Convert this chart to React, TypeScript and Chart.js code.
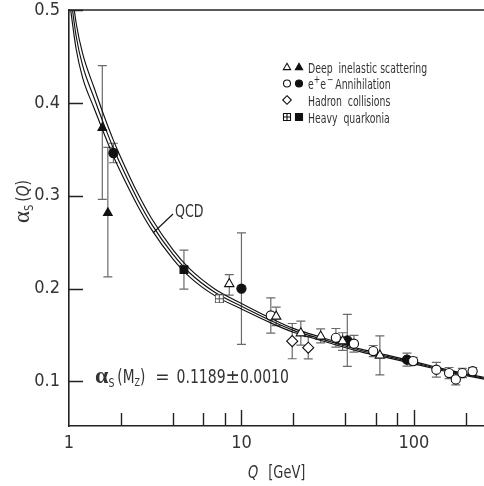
import React, { useEffect, useRef } from 'react';
import { Chart, registerables } from 'chart.js';

Chart.register(...registerables);

const FAM = "'Liberation Sans Narrow', 'DejaVu Sans Condensed', 'Liberation Sans', sans-serif";
const SERIF = "'Liberation Serif', 'DejaVu Serif', serif";
const TEXT = '#333';
const INK = '#111';
const BAR = '#6b6b6b';

// axes
const xTickLabels = [1, 10, 100];
const xInnerTicks = [2, 4, 6, 8, 10, 20, 40, 60, 80, 100, 200];
const yTickLabels = [0.1, 0.2, 0.3, 0.4, 0.5];

// QCD prediction (band of three curves)
const qcdQ = [1.0, 1.1, 1.2, 1.4, 1.6, 1.8, 2.0, 2.5, 3.0, 4.0, 5.0, 7.0, 10, 15, 20, 30, 50, 70, 91.2, 130, 180, 255];
const qcdCentral = [0.53, 0.472, 0.44, 0.405, 0.376, 0.352, 0.333, 0.296, 0.27, 0.237, 0.217, 0.196, 0.181, 0.165, 0.155, 0.145, 0.133, 0.127, 0.122, 0.115, 0.109, 0.1035];
const qcdUpper = [0.546, 0.486, 0.453, 0.416, 0.3855, 0.3607, 0.341, 0.3028, 0.276, 0.242, 0.2214, 0.1996, 0.184, 0.1675, 0.1571, 0.1468, 0.1345, 0.1283, 0.1232, 0.1161, 0.11, 0.1045];
const qcdLower = [0.514, 0.458, 0.427, 0.394, 0.3665, 0.3433, 0.325, 0.2892, 0.264, 0.232, 0.2126, 0.1924, 0.178, 0.1625, 0.1529, 0.1432, 0.1315, 0.1257, 0.1208, 0.1139, 0.108, 0.1025];

// Deep inelastic scattering
const disOpenQ = [8.5, 15.9, 22.1, 28.8, 38.6, 63.5];
const disOpenA = [0.205, 0.17, 0.152, 0.1485, 0.1434, 0.128];
const disOpenLo = [0.012, 0.01, 0.013, 0.007, 0.01, 0.021];
const disOpenHi = [0.01, 0.01, 0.013, 0.008, 0.009, 0.021];
const disFilledQ = [1.56, 1.68];
const disFilledA = [0.373, 0.2815];
const disFilledLo = [0.077, 0.069];
const disFilledHi = [0.067, 0.0705];

// e+e- annihilation
const eeOpenQ = [14.8, 35.3, 44.9, 58.1, 99, 135, 160, 175, 191, 219];
const eeOpenA = [0.171, 0.147, 0.1406, 0.1327, 0.1219, 0.1126, 0.109, 0.1022, 0.109, 0.111];
const eeOpenErr = [0.019, 0.01, 0.009, 0.006, 0.004, 0.008, 0.006, 0.006, 0.005, 0.004];
const eeFilledQ = [1.81, 10, 41.1, 91.2];
const eeFilledA = [0.346, 0.2, 0.1442, 0.1234];
const eeFilledErr = [0.0105, 0.06, 0.028, 0.007];

// Hadron collisions
const hadronQ = [19.7, 24.4];
const hadronA = [0.1434, 0.1363];
const hadronErr = [0.019, 0.012];

// Heavy quarkonia
const quarkOpenQ = [7.44];
const quarkOpenA = [0.189];
const quarkOpenErr = [0.003];
const quarkFilledQ = [4.64];
const quarkFilledA = [0.2204];
const quarkFilledErr = [0.021];

const legendRows = ['Deep inelastic scattering', 'e+e- Annihilation', 'Hadron collisions', 'Heavy quarkonia'];

const pts = (q: number[], a: number[]) => q.map((x, i) => ({ x, y: a[i] }));

function makeCrossSquare(size: number, color: string) {
  const c = document.createElement('canvas');
  c.width = size;
  c.height = size;
  const g = c.getContext('2d')!;
  g.fillStyle = '#fff';
  g.fillRect(0.5, 0.5, size - 1, size - 1);
  g.strokeStyle = color;
  g.lineWidth = 1;
  g.strokeRect(0.5, 0.5, size - 1, size - 1);
  const m = Math.floor(size / 2) + 0.5;
  g.beginPath();
  g.moveTo(m, 0.5);
  g.lineTo(m, size - 0.5);
  g.moveTo(0.5, m);
  g.lineTo(size - 0.5, m);
  g.stroke();
  return c;
}

function marker(ctx: CanvasRenderingContext2D, kind: string, x: number, y: number, r: number, filled: boolean) {
  ctx.save();
  ctx.lineWidth = 1.1;
  ctx.strokeStyle = INK;
  ctx.fillStyle = filled ? INK : '#fff';
  ctx.beginPath();
  if (kind === 'tri') {
    ctx.moveTo(x, y - r);
    ctx.lineTo(x + r * 0.866, y + r * 0.5);
    ctx.lineTo(x - r * 0.866, y + r * 0.5);
    ctx.closePath();
  } else if (kind === 'circ') {
    ctx.arc(x, y, r, 0, Math.PI * 2);
  } else if (kind === 'dia') {
    ctx.moveTo(x, y - r);
    ctx.lineTo(x + r, y);
    ctx.lineTo(x, y + r);
    ctx.lineTo(x - r, y);
    ctx.closePath();
  } else {
    ctx.rect(x - r, y - r, 2 * r, 2 * r);
  }
  ctx.fill();
  ctx.stroke();
  if (kind === 'sqx') {
    ctx.beginPath();
    ctx.moveTo(x, y - r);
    ctx.lineTo(x, y + r);
    ctx.moveTo(x - r, y);
    ctx.lineTo(x + r, y);
    ctx.stroke();
  }
  ctx.restore();
}

function sText(ctx: CanvasRenderingContext2D, s: string, x: number, y: number, font: string, sx = 1) {
  ctx.save();
  ctx.font = font;
  ctx.translate(x, y);
  ctx.scale(sx, 1);
  ctx.fillText(s, 0, 0);
  const w = ctx.measureText(s).width * sx;
  ctx.restore();
  return w;
}

const customPlugin = {
  id: 'alphasDecor',
  beforeDatasetsDraw(chart: any) {
    const { ctx, chartArea: ca } = chart;
    const xs = chart.scales.x;
    const ys = chart.scales.y;
    ctx.save();
    ctx.beginPath();
    ctx.rect(ca.left, ca.top, ca.right - ca.left, ca.bottom - ca.top);
    ctx.clip();
    ctx.strokeStyle = BAR;
    ctx.lineWidth = 1.2;
    chart.data.datasets.forEach((ds: any) => {
      if (!ds.errLo) return;
      ds.data.forEach((p: any, i: number) => {
        const x = xs.getPixelForValue(p.x);
        const y1 = ys.getPixelForValue(p.y + ds.errHi[i]);
        const y2 = ys.getPixelForValue(p.y - ds.errLo[i]);
        ctx.beginPath();
        ctx.moveTo(x, y1);
        ctx.lineTo(x, y2);
        ctx.moveTo(x - 4.5, y1);
        ctx.lineTo(x + 4.5, y1);
        ctx.moveTo(x - 4.5, y2);
        ctx.lineTo(x + 4.5, y2);
        ctx.stroke();
      });
    });
    ctx.restore();
  },
  afterDraw(chart: any) {
    const { ctx, chartArea: ca } = chart;
    const xs = chart.scales.x;
    const ys = chart.scales.y;
    ctx.save();
    // top frame line
    ctx.strokeStyle = '#222';
    ctx.lineWidth = 1.6;
    ctx.beginPath();
    ctx.moveTo(ca.left, ca.top);
    ctx.lineTo(ca.right, ca.top);
    ctx.stroke();
    // inward ticks
    ctx.lineWidth = 1.4;
    ctx.beginPath();
    xInnerTicks.forEach((v) => {
      const x = Math.round(xs.getPixelForValue(v)) + 0.5;
      const len = v === 10 || v === 100 ? 16 : 13;
      ctx.moveTo(x, ca.bottom);
      ctx.lineTo(x, ca.bottom - len);
    });
    yTickLabels.forEach((v) => {
      const y = Math.round(ys.getPixelForValue(v)) + 0.5;
      ctx.moveTo(ca.left, y);
      ctx.lineTo(ca.left + 14, y);
    });
    ctx.stroke();

    ctx.fillStyle = TEXT;
    ctx.textBaseline = 'alphabetic';
    ctx.textAlign = 'left';

    // QCD label with leader line
    ctx.strokeStyle = INK;
    ctx.lineWidth = 1.1;
    ctx.beginPath();
    ctx.moveTo(173, 214);
    ctx.lineTo(153, 233);
    ctx.stroke();
    sText(ctx, 'QCD', 175, 217, `18px ${FAM}`, 0.78);

    // alpha_s(M_Z) annotation
    let x = 95;
    const by = 383;
    x += sText(ctx, 'α', x, by, `bold 24px ${SERIF}`);
    x += sText(ctx, 'S', x, by + 4, `13px ${FAM}`, 0.8) + 3;
    x += sText(ctx, '(M', x, by, `19px ${FAM}`, 0.8);
    x += sText(ctx, 'Z', x, by + 3, `11px ${FAM}`, 0.8);
    x += sText(ctx, ')', x, by, `19px ${FAM}`, 0.8);
    x += 10;
    x += sText(ctx, '=', x, by, `19px ${FAM}`, 1);
    x += 7;
    x += sText(ctx, '0.1189', x, by, `19px ${FAM}`, 0.82);
    x += sText(ctx, '±', x, by, `19px ${FAM}`, 1);
    sText(ctx, '0.0010', x, by, `19px ${FAM}`, 0.82);

    // x title
    let tx = 248;
    tx += sText(ctx, 'Q', tx, 478, `italic 17px ${FAM}`, 0.85) + 10;
    sText(ctx, '[GeV]', tx, 478, `17px ${FAM}`, 0.85);

    // y title (rotated)
    ctx.save();
    ctx.translate(29, 223);
    ctx.rotate(-Math.PI / 2);
    let ty = 0;
    ty += sText(ctx, 'α', ty, 0, `23px ${SERIF}`);
    ty += sText(ctx, 'S', ty, 4, `13px ${FAM}`, 0.85) + 3;
    ty += sText(ctx, '(', ty, 0, `18px ${FAM}`, 0.85);
    ty += sText(ctx, 'Q', ty, 0, `italic 18px ${FAM}`, 0.85);
    sText(ctx, ')', ty, 0, `18px ${FAM}`, 0.85);
    ctx.restore();

    // legend
    const rowsY = [67, 83.5, 100, 117];
    const kinds = ['tri', 'circ', 'dia', 'sq'];
    const LF = `14px ${FAM}`;
    const LS = 0.74;
    rowsY.forEach((ry, i) => {
      const k = kinds[i];
      if (k === 'tri') {
        marker(ctx, 'tri', 287, ry + 0.5, 4.2, false);
        marker(ctx, 'tri', 299, ry + 0.5, 4.2, true);
      } else if (k === 'circ') {
        marker(ctx, 'circ', 287, ry, 3.5, false);
        marker(ctx, 'circ', 299, ry, 3.5, true);
      } else if (k === 'dia') {
        marker(ctx, 'dia', 287, ry, 4.3, false);
      } else {
        marker(ctx, 'sqx', 287, ry, 3.5, false);
        marker(ctx, 'sq', 299, ry, 3.5, true);
      }
      ctx.fillStyle = TEXT;
      const ly = ry + 5.5;
      if (i === 1) {
        let lx = 308;
        lx += sText(ctx, 'e', lx, ly, LF, LS);
        lx += sText(ctx, '+', lx, ly - 6, `10px ${FAM}`, 0.85);
        lx += sText(ctx, 'e', lx, ly, LF, LS) + 1;
        lx += sText(ctx, '\u2212', lx, ly - 6, `10px ${FAM}`, 0.85) + 2;
        sText(ctx, 'Annihilation', lx, ly, LF, LS);
      } else {
        sText(ctx, legendRows[i].replace(' ', '  '), 308, ly, LF, LS);
      }
    });
    ctx.restore();
  },
};

export default function App() {
  const ref = useRef<HTMLCanvasElement | null>(null);
  useEffect(() => {
    document.body.style.margin = '0';
    const canvas = ref.current!;
    const curve = (vals: number[]) => ({
      type: 'line',
      data: pts(qcdQ, vals),
      borderColor: INK,
      borderWidth: 1.15,
      pointRadius: 0,
      cubicInterpolationMode: 'monotone',
      fill: false,
      order: 10,
    });
    const markers = (
      q: number[], a: number[], lo: number[], hi: number[],
      style: any, radius: number, filled: boolean, label: string,
    ) => ({
      type: 'scatter',
      label,
      data: pts(q, a),
      errLo: lo,
      errHi: hi,
      pointStyle: style,
      pointRadius: radius,
      pointBackgroundColor: filled ? INK : '#fff',
      pointBorderColor: INK,
      pointBorderWidth: 1.1,
      order: 0,
    });
    const quarkOpenStyle = makeCrossSquare(9, '#555');
    const chart = new Chart(canvas, {
      type: 'scatter',
      data: {
        datasets: [
          curve(qcdUpper),
          curve(qcdCentral),
          curve(qcdLower),
          markers(hadronQ, hadronA, hadronErr, hadronErr, 'rectRot', 5.5, false, 'Hadron collisions'),
          markers(quarkOpenQ, quarkOpenA, quarkOpenErr, quarkOpenErr, quarkOpenStyle, 5, false, 'Heavy quarkonia (open)'),
          markers(quarkFilledQ, quarkFilledA, quarkFilledErr, quarkFilledErr, 'rect', 5.5, true, 'Heavy quarkonia'),
          markers(disOpenQ, disOpenA, disOpenLo, disOpenHi, 'triangle', 5.4, false, 'DIS (open)'),
          markers(disFilledQ, disFilledA, disFilledLo, disFilledHi, 'triangle', 5, true, 'DIS'),
          markers(eeOpenQ, eeOpenA, eeOpenErr, eeOpenErr, 'circle', 4.6, false, 'e+e- (open)'),
          markers(eeFilledQ, eeFilledA, eeFilledErr, eeFilledErr, 'circle', 4.6, true, 'e+e-'),
        ] as any,
      },
      options: {
        responsive: false,
        animation: false,
        devicePixelRatio: 1,
        layout: { autoPadding: false, padding: { top: 10, left: 0, right: 0, bottom: 0 } },
        plugins: { legend: { display: false }, tooltip: { enabled: false } },
        scales: {
          x: {
            type: 'logarithmic',
            min: 1,
            max: 255,
            grid: { display: false, drawTicks: false },
            border: { display: true, color: '#222', width: 1.6 },
            ticks: {
              autoSkip: false,
              maxRotation: 0,
              padding: 7,
              color: TEXT,
              font: { family: FAM, size: 18 },
              callback: (v: any) => String(v),
            },
            afterBuildTicks: (s: any) => {
              s.ticks = xTickLabels.map((v) => ({ value: v }));
            },
            afterFit: (s: any) => {
              s.height = 60;
              s.paddingLeft = 0;
              s.paddingRight = 0;
            },
          },
          y: {
            type: 'linear',
            min: 0.052,
            max: 0.5,
            grid: { display: false, drawTicks: false },
            border: { display: true, color: '#222', width: 1.6 },
            ticks: {
              autoSkip: false,
              padding: 9,
              color: TEXT,
              font: { family: FAM, size: 18 },
              callback: (v: any) => Number(v).toFixed(1),
            },
            afterBuildTicks: (s: any) => {
              s.ticks = yTickLabels.map((v) => ({ value: v }));
            },
            afterFit: (s: any) => {
              s.width = 69;
              s.paddingTop = 0;
              s.paddingBottom = 0;
            },
          },
        },
      } as any,
      plugins: [customPlugin as any],
    });
    return () => chart.destroy();
  }, []);
  return (
    <div style={{ width: 484, height: 486 }}>
      <canvas ref={ref} width={484} height={486} style={{ display: 'block' }} />
    </div>
  );
}
